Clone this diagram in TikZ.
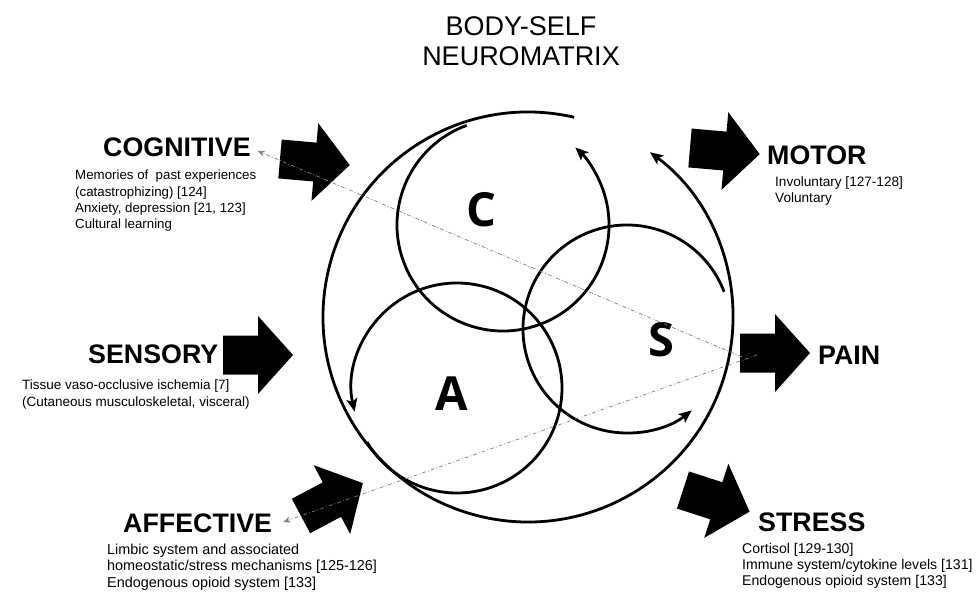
\documentclass[tikz,border=0pt]{standalone}
\usepackage{fontspec}
\setmainfont{Liberation Sans}
\newfontfamily\circlefont{Open Sans}
\usetikzlibrary{arrows.meta}

\begin{document}
\begin{tikzpicture}[
    x=1pt, y=-1pt,
    loop/.style={line width=2.8pt, -{Stealth[length=13pt, width=11pt, inset=3pt]}},
    link/.style={gray, line width=0.7pt, dash pattern=on 4pt off 2pt on 1pt off 2pt,
                 -{Stealth[length=7pt, width=6pt]}},
    heading/.style={font=\fontsize{26.8}{30}\selectfont\bfseries, inner sep=0pt, anchor=west},
    note/.style={font=\fontsize{#1}{16.2}\selectfont, inner sep=0pt, anchor=north west, align=left},
    note/.default=13.5,
    letter/.style={font=\circlefont\fontsize{47}{50}\selectfont\bfseries, inner sep=0pt},
    blockarrow/.pic={\fill (0,-19.5) -- (35,-19.5) -- (35,-39) -- (70,0) -- (35,39) -- (35,19.5) -- (0,19.5) -- cycle;}
  ]
  \useasboundingbox (0,0) rectangle (979,593);

  \node[font=\fontsize{27}{30}\selectfont, align=center] (title) at (521,41) {BODY-SELF\\NEUROMATRIX};

  \coordinate (bigc) at (528,317);
  \coordinate (cc) at (503,225);
  \coordinate (ac) at (457,388);
  \coordinate (sc) at (627,329);

  \draw[loop] (bigc) ++(-77:205) arc[start angle=-77, end angle=-413.5, radius=205];
  \draw[loop] (cc) ++(-110:106) arc[start angle=-110, end angle=-407, radius=106];
  \draw[loop] (ac) ++(-211:105) arc[start angle=-211, end angle=-553, radius=105];
  \draw[loop] (sc) ++(-21:104) arc[start angle=-21, end angle=-308.5, radius=104];

  \node[letter] (cletter) at (481,210) {C};
  \node[letter] (aletter) at (452,394) {A};
  \node[letter] (sletter) at (661,340) {S};

  \pic[rotate=-5] (cogarrow) at (280,159) {blockarrow};
  \pic (sensarrow) at (223,355) {blockarrow};
  \pic[rotate=28] (affarrow) at (301,516) {blockarrow};
  \pic[rotate=-5] (motorarrow) at (690,148) {blockarrow};
  \pic (painarrow) at (740,353) {blockarrow};
  \pic[rotate=-18] (stressarrow) at (683,490) {blockarrow};

  \node[heading] (cog) at (103,147) {COGNITIVE};
  \node[note=13.3] (cognote) at (75,170) {Memories of\ \ past experiences\\(catastrophizing) [124]\\Anxiety, depression [21, 123]\\Cultural learning};
  \node[heading] (sens) at (88,354) {SENSORY};
  \node[note] (sensnote) at (22,380) {Tissue vaso-occlusive ischemia [7]\\(Cutaneous musculoskeletal, visceral)};
  \node[heading] (aff) at (123,523) {AFFECTIVE};
  \node[note=14.4] (affnote) at (107,544) {Limbic system and associated\\homeostatic/stress mechanisms [125-126]\\Endogenous opioid system [133]};
  \node[heading] (motor) at (767,155) {MOTOR};
  \node[note=13.6] (motornote) at (775,176) {Involuntary [127-128]\\Voluntary};
  \node[heading] (pain) at (818,355) {PAIN};
  \node[heading] (stress) at (758,522) {STRESS};
  \node[note=14.1] (stressnote) at (742,543) {Cortisol [129-130]\\Immune system/cytokine levels [131]\\Endogenous opioid system [133]};

  \coordinate (painin1) at (742,357);
  \coordinate (painin2) at (757,355);
  \draw[link] (painin1) -- ([shift={(7,4)}]cog.east);
  \draw[link] (painin2) -- ([shift={(11,-1)}]aff.east);
\end{tikzpicture}
\end{document}
